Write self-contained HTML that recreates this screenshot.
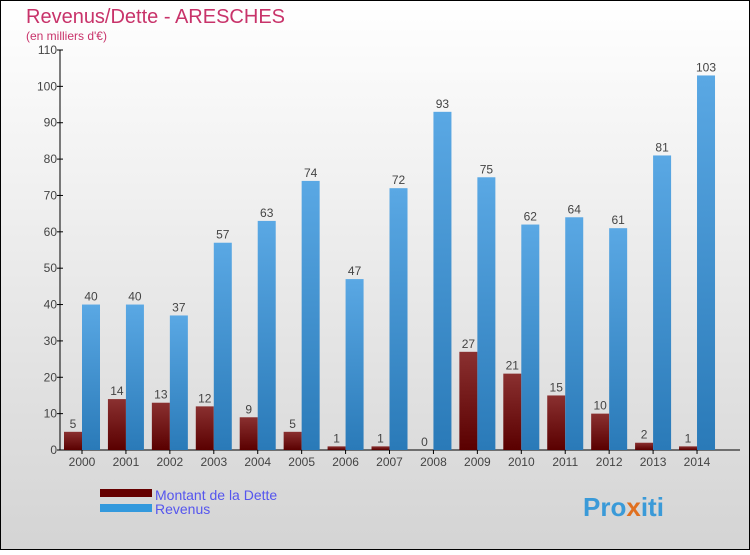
<!DOCTYPE html>
<html><head><meta charset="utf-8"><style>
html,body{margin:0;padding:0}
body{width:750px;height:550px;overflow:hidden;font-family:"Liberation Sans",sans-serif}
</style></head><body>
<svg width="750" height="550" xmlns="http://www.w3.org/2000/svg">
<defs>
<linearGradient id="bg" x1="0" y1="0" x2="0" y2="1"><stop offset="0" stop-color="#ffffff"/><stop offset="1" stop-color="#d4d4d4"/></linearGradient>
<linearGradient id="gd" x1="0" y1="0" x2="0" y2="1"><stop offset="0" stop-color="#8a3030"/><stop offset="1" stop-color="#5a0000"/></linearGradient>
<linearGradient id="gr" x1="0" y1="0" x2="0" y2="1"><stop offset="0" stop-color="#5aa8e4"/><stop offset="1" stop-color="#2a7ab8"/></linearGradient>
</defs>
<rect x="0.5" y="0.5" width="749" height="549" fill="url(#bg)" stroke="#000"/>
<text x="26" y="23" font-size="20" fill="#c8336a">Revenus/Dette - ARESCHES</text>
<text x="26" y="40" font-size="12" fill="#c8336a">(en milliers d'€)</text>
<g id="axes"></g>
<g id="bars"></g>
<g>
<rect x="100" y="489" width="52" height="8" fill="#660000"/>
<text x="155" y="500" font-size="14" fill="#5555ee">Montant de la Dette</text>
<rect x="100" y="504" width="52" height="8" fill="#3399dd"/>
<text x="155" y="514" font-size="14" fill="#5555ee">Revenus</text>
</g>
<text x="583" y="516" font-size="26" font-weight="bold" fill="#3a9ad8">Pro<tspan fill="#e07020">x</tspan>iti</text>
</svg>
<script>
const years=["2000","2001","2002","2003","2004","2005","2006","2007","2008","2009","2010","2011","2012","2013","2014"];
const dette=[5,14,13,12,9,5,1,1,0,27,21,15,10,2,1];
const revenus=[40,40,37,57,63,74,47,72,93,75,62,64,61,81,103];
const ticks=[0,10,20,30,40,50,60,70,80,90,100,110];
const NS="http://www.w3.org/2000/svg";
const y0=450,yTop=50,vMax=110;
const y=v=>y0-(y0-yTop)*v/vMax;
const xc=i=>82+i*43.93;
function mk(t,a,p,txt){const e=document.createElementNS(NS,t);for(const k in a)e.setAttribute(k,a[k]);if(txt!==undefined)e.textContent=txt;p.appendChild(e);return e;}
const ax=document.getElementById('axes'),bars=document.getElementById('bars');
let l=mk('line',{x1:60,y1:y(110),x2:60,y2:y0,stroke:'#000'},ax);


l=mk('line',{x1:60,y1:y0,x2:740,y2:y0,stroke:'#000'},ax);


ticks.forEach(t=>{
 const tk=mk('line',{x1:57,x2:63,y1:y(t),y2:y(t),stroke:'#000'},ax);
 
 
 const tx=mk('text',{x:57,y:y(t)+4,'font-size':12,fill:'#444','text-anchor':'end'},ax,t);
 
 
});
years.forEach((yr,i)=>{
 const c=xc(i);
 const tk=mk('line',{x1:c,x2:c,y1:y0,y2:y0+4,stroke:'#000'},ax);
 
 
 const tx=mk('text',{x:c,y:466,'font-size':12,fill:'#444','text-anchor':'middle'},ax,yr);
 
 
 const d=mk('rect',{x:c-18,y:y(dette[i]),width:18,height:y0-y(dette[i]),fill:'url(#gd)'},bars);
 
 
 const dl=mk('text',{x:c-9,y:y(dette[i])-4,'font-size':12,fill:'#444','text-anchor':'middle'},bars,dette[i]);
 
 
 const r=mk('rect',{x:c,y:y(revenus[i]),width:18,height:y0-y(revenus[i]),fill:'url(#gr)'},bars);
 
 
 const rl=mk('text',{x:c+9,y:y(revenus[i])-4,'font-size':12,fill:'#444','text-anchor':'middle'},bars,revenus[i]);
 
 
});
</script>
</body></html>
